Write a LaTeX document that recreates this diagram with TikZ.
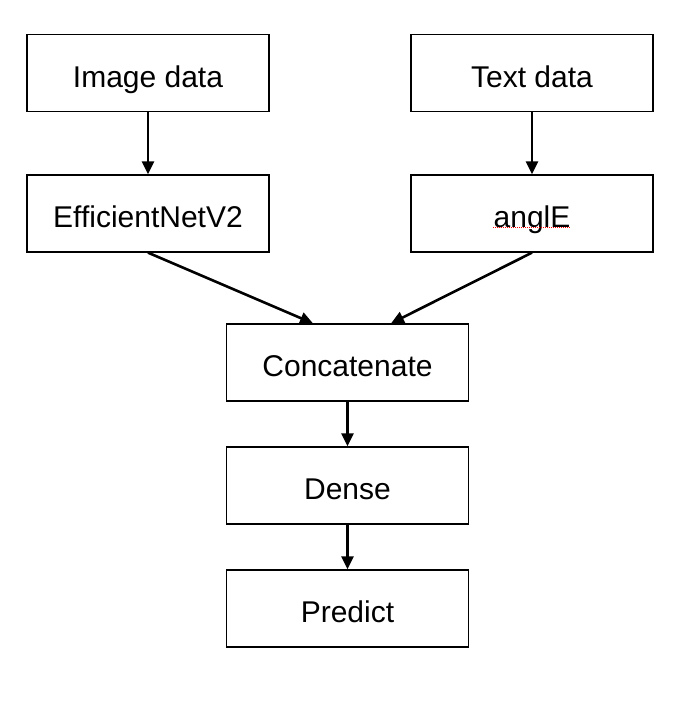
\documentclass[tikz,border=0pt]{standalone}
\usepackage{fontspec}
\setmainfont{Liberation Sans}
\usetikzlibrary{arrows.meta}
\begin{document}
\begin{tikzpicture}[x=1pt,y=-1pt,
  box/.style={draw=black,line width=1.3pt,minimum width=242pt,minimum height=77pt,inner sep=0pt,
    font=\fontsize{30}{36}\selectfont,text height=28.5pt,text depth=0pt,fill=white},
  conn/.style={line width=2.6pt,-{Triangle[length=13pt,width=12pt]}}]
\fill[white] (0,0) rectangle (690,702);
\useasboundingbox (0,0) rectangle (690,702);
\node[box] (img) at (148,73) {Image data};
\node[box] (txt) at (532,73) {Text data};
\node[box] (eff) at (148,213.5) {EfficientNetV2};
\node[box] (ang) at (532,213.5) {anglE};
\node[box] (cat) at (347.5,362.5) {Concatenate};
\node[box] (den) at (347.5,485.5) {Dense};
\node[box] (pre) at (347.5,608.5) {Predict};
\draw[red,densely dotted,line width=1pt] (493,227.5) -- (571,227.5);
\draw[conn] (img) -- (eff);
\draw[conn] (txt) -- (ang);
\draw[conn] (eff.south) -- (cat.north -| 313,0);
\draw[conn] (ang.south) -- (cat.north -| 391,0);
\draw[conn] (cat) -- (den);
\draw[conn] (den) -- (pre);
\end{tikzpicture}
\end{document}
